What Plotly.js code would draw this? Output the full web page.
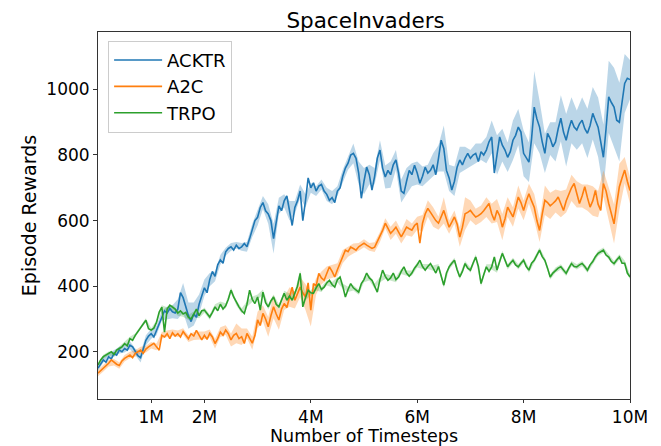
<!DOCTYPE html>
<html>
<head>
<meta charset="utf-8">
<script src="https://cdn.plot.ly/plotly-3.0.1.min.js"></script>
<style>html,body{margin:0;padding:0;background:#fff;}#chart{width:661px;height:446px;}</style>
</head>
<body>
<div id="chart"></div>
<script>
// ---- data ----
const seriesNames = ['ACKTR', 'A2C', 'TRPO'];
const sampleInterval = 50000;      // timesteps between line samples
const xTickVals = [1e6, 2e6, 4e6, 6e6, 8e6, 1e7];
const xTickText = ['1M', '2M', '4M', '6M', '8M', '10M'];
const yTickVals = [200, 400, 600, 800, 1000];

const acktr = [
150,162,175,168,185,178,195,190,205,200,
210,205,220,215,200,188,182,210,235,248,
255,245,265,290,310,325,318,332,322,318,
330,380,365,335,310,292,315,305,345,370,
395,380,420,445,430,465,480,470,505,515,
520,510,525,515,520,530,520,545,570,600,
610,640,655,630,620,600,545,600,645,630,
660,675,630,585,640,660,690,600,660,730,
700,715,690,705,710,690,680,662,670,655,
690,700,735,760,775,800,805,790,745,668,
720,763,740,693,735,790,815,760,733,753,
740,770,785,745,690,683,720,753,740,769,
745,714,735,763,745,753,770,740,790,845,
820,753,730,693,720,763,785,770,790,805,
790,800,805,780,810,800,815,840,855,745,
800,855,830,815,793,810,845,860,885,870,
805,790,778,850,946,910,885,840,805,866,
850,825,840,880,912,870,845,880,906,885,
876,895,906,880,866,890,927,905,885,840,
793,880,977,960,946,906,900,960,1018,1034,
1030];

const a2c = [
135,142,150,158,165,175,168,162,158,172,
180,185,190,182,195,200,205,195,208,215,
220,226,215,205,250,245,255,240,258,248,
255,245,262,250,240,255,248,265,250,236,
250,238,256,245,225,240,260,250,266,255,
236,250,256,240,246,225,256,240,226,250,
297,280,317,300,276,310,337,315,297,330,
347,335,367,397,357,375,397,380,367,410,
327,408,400,439,425,418,440,459,445,428,
450,469,490,510,505,519,515,510,520,525,
531,525,520,515,519,535,550,570,592,575,
561,570,580,565,550,565,580,575,571,585,
592,531,592,620,637,625,611,600,592,610,
631,605,580,595,611,590,550,580,621,625,
631,620,611,615,621,630,641,652,621,601,
631,615,580,605,641,625,611,640,672,655,
631,660,682,660,641,600,570,620,662,655,
645,652,660,672,650,631,660,682,700,713,
680,652,675,703,670,641,660,692,650,631,
713,690,652,620,590,650,703,730,754,720,
692];

const trpo = [
160,175,185,190,195,200,192,205,210,215,
225,218,240,235,250,262,275,285,296,270,
266,272,290,321,336,260,330,342,335,330,
318,325,315,320,305,300,315,330,310,325,
327,315,306,320,337,325,345,330,340,360,
388,367,350,337,325,317,345,388,360,347,
367,327,382,350,337,355,367,345,337,360,
378,357,370,357,378,400,439,337,365,388,
380,378,395,408,390,397,410,418,405,397,
420,428,400,367,390,408,395,388,382,408,
420,440,425,418,400,382,420,449,430,418,
425,440,420,428,445,459,440,430,440,455,
465,479,460,449,460,469,455,440,460,430,
403,440,459,470,479,450,428,445,469,455,
449,470,489,460,408,435,459,445,459,489,
449,475,500,480,459,470,479,465,459,470,
479,460,449,470,479,495,510,490,479,455,
428,440,449,455,459,450,439,455,469,460,
459,465,469,460,449,465,475,490,500,505,
510,495,489,475,469,480,489,470,470,440,
428];

// half-width of the shaded band, one value per 0.1M (every other sample)
const acktrSpread = [
8,8,10,10,10,12,12,10,15,15,
15,15,15,20,20,30,45,40,35,30,
25,20,15,15,12,12,10,12,15,20,
25,20,30,45,25,20,30,20,20,20,
15,15,15,20,20,15,20,20,30,35,
40,30,25,30,35,40,30,35,40,35,
35,30,25,35,40,70,40,45,40,35,
25,30,25,40,50,60,50,45,60,55,
70,60,110,80,60,50,60,70,80,70,
60,70,75,80,90,100,110,120,120,90,
60];
const a2cSpread = [
10,10,10,10,10,10,10,10,10,10,
10,10,10,10,10,10,10,10,12,12,
12,12,15,15,15,20,30,25,15,20,
25,25,30,35,30,20,30,25,30,40,
50,25,20,20,20,20,20,15,15,12,
12,12,15,15,15,20,20,20,25,20,
20,25,25,30,20,40,20,20,30,50,
30,25,25,30,30,35,40,30,30,35,
30,30,40,35,45,40,35,40,35,40,
40,35,40,45,40,40,50,60,70,40,
40];
const trpoSpread = [
6,6,6,6,6,6,6,6,6,6,
6,6,6,6,8,8,8,8,8,8,
8,8,8,8,8,8,8,8,8,8,
8,8,8,8,8,8,8,8,8,8,
8,8,8,8,8,8,8,8,8,8,
8,8,8,8,8,8,8,8,8,8,
8,8,8,8,8,8,8,8,8,8,
8,8,8,8,8,8,8,8,8,8,
8,8,8,8,8,8,8,8,8,8,
8,8,8,8,8,8,8,8,8,8,
8];

const colors = ['#1f77b4', '#ff7f0e', '#2ca02c'];
const bandColors = ['rgba(31,119,180,0.3)', 'rgba(255,127,14,0.3)', 'rgba(44,160,44,0.25)'];

// ---- build traces ----
const lines = [acktr, a2c, trpo];
const spreads = [acktrSpread, a2cSpread, trpoSpread];
const traces = [];
const lineTraces = [];
lines.forEach((ys, s) => {
  const xs = ys.map((_, i) => i * sampleInterval);
  const bx = [], up = [], lo = [];
  spreads[s].forEach((w, j) => {
    const k = j * 2;
    bx.push(xs[k]); up.push(ys[k] + w); lo.push(ys[k] - w);
  });
  traces.push({
    x: bx.concat(bx.slice().reverse()),
    y: up.concat(lo.slice().reverse()),
    type: 'scatter', mode: 'lines', fill: 'toself',
    fillcolor: bandColors[s], line: {width: 0, color: bandColors[s]},
    hoverinfo: 'skip', showlegend: false
  });
  lineTraces.push({
    x: xs, y: ys, name: seriesNames[s],
    type: 'scatter', mode: 'lines',
    line: {color: colors[s], width: 1.6}
  });
});

const fontFam = 'DejaVu Sans, sans-serif';
const layout = {
  width: 661, height: 446,
  margin: {l: 98, r: 31, t: 32, b: 47},
  paper_bgcolor: '#fff', plot_bgcolor: '#fff',
  font: {family: fontFam, size: 17, color: '#000'},
  title: {text: 'SpaceInvaders', font: {family: fontFam, size: 21.5, color: '#000'},
          x: 0.553, xanchor: 'center', yref: 'container', y: 0.955, yanchor: 'middle'},
  xaxis: {
    range: [0, 1e7], tickvals: xTickVals, ticktext: xTickText,
    showgrid: false, zeroline: false, showline: true, mirror: true,
    linecolor: '#333', linewidth: 1, ticks: 'outside', ticklen: 3, tickcolor: '#333',
    tickfont: {family: fontFam, size: 17, color: '#000'},
    title: {text: 'Number of Timesteps', font: {family: fontFam, size: 17.5, color: '#000'}, standoff: 2}
  },
  yaxis: {
    range: [56, 1175], tickvals: yTickVals,
    showgrid: false, zeroline: false, showline: true, mirror: true,
    linecolor: '#333', linewidth: 1, ticks: 'outside', ticklen: 4, tickcolor: '#333',
    tickfont: {family: fontFam, size: 17, color: '#000'},
    title: {text: 'Episode Rewards', font: {family: fontFam, size: 19, color: '#000'}, standoff: 4}
  },
  legend: {
    x: 0.019, y: 0.976, xanchor: 'left', yanchor: 'top',
    bgcolor: 'rgba(255,255,255,0.8)', bordercolor: '#ccc', borderwidth: 1,
    itemwidth: 48,
    font: {family: fontFam, size: 18, color: '#000'}
  },
  showlegend: true
};

Plotly.newPlot('chart', traces.concat(lineTraces), layout, {displayModeBar: false, staticPlot: true});
</script>
</body>
</html>
